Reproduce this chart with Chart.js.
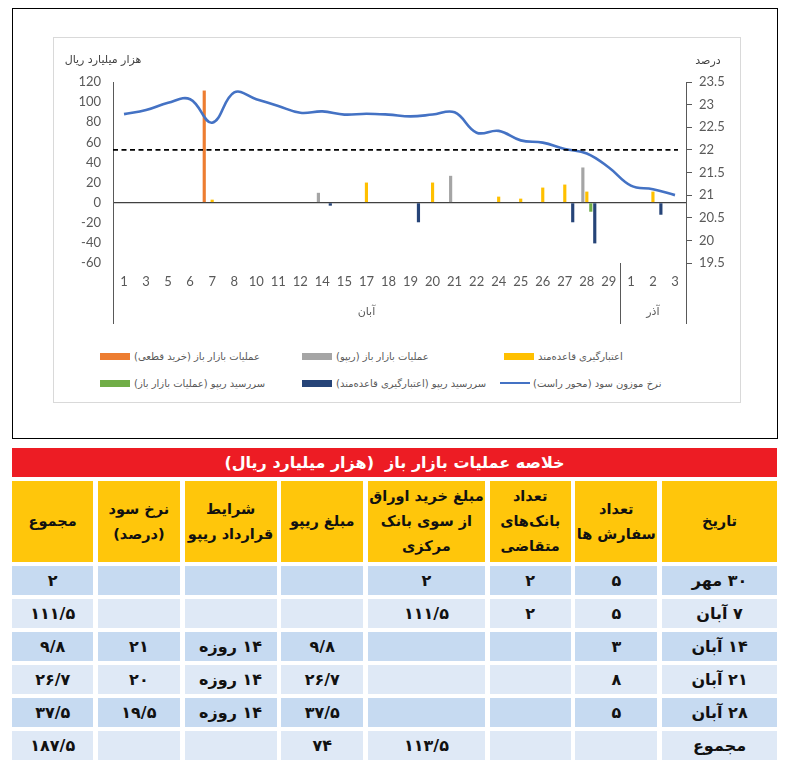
<!DOCTYPE html>
<html>
<head>
<meta charset="utf-8">
<script src="https://cdn.jsdelivr.net/npm/chart.js@4.4.0/dist/chart.umd.min.js"></script>
<style>
html,body{margin:0;padding:0;background:#fff;width:785px;height:765px;overflow:hidden;font-family:"DejaVu Sans",sans-serif;}
#outer{position:absolute;left:12px;top:8px;width:766px;height:431px;border:1px solid #000;box-sizing:border-box;}
#inner{position:absolute;left:53px;top:37px;width:688px;height:366px;border:1px solid #d9d9d9;box-sizing:border-box;}
#chartBox{position:absolute;left:53px;top:37px;width:687px;height:300px;}
.lg{position:absolute;height:14px;display:flex;align-items:center;font-size:10px;color:#595959;white-space:nowrap;}
.lg .sw{width:30px;height:7px;margin-right:4px;}
.lg .ln{width:30px;height:2.5px;margin-right:3px;}
#title{position:absolute;left:12px;top:448px;width:765px;height:29px;background:#ed1c24;color:#fff;font-weight:bold;font-size:16px;display:flex;align-items:center;justify-content:center;direction:rtl;}
#grid{position:absolute;left:12px;top:481px;width:765px;display:grid;direction:rtl;
 grid-template-columns:115px 82px 81px 117px 82px 92px 82px 81px;column-gap:4.7px;
 grid-template-rows:81px repeat(6,29px);row-gap:4px;}
#grid div{display:flex;align-items:center;justify-content:center;text-align:center;font-weight:bold;color:#111;direction:rtl;}
#grid .h{background:#ffc60b;font-size:14.5px;line-height:25px;}
#grid .m{background:#c6daf1;font-size:16px;}
#grid .l{background:#dfe9f6;font-size:16px;}
</style>
</head>
<body>
<div id="outer"></div>
<div id="inner"></div>
<div id="chartBox"><canvas id="c"></canvas></div>
<div id="legend"></div>
<div id="title">خلاصه عملیات بازار باز &nbsp;(هزار میلیارد ریال)</div>
<div id="grid"></div>
<script>
// ---- chart data ----
const categories = ['1','3','5','6','7','8','10','11','12','14','15','17','18','19','20','21','22','24','25','26','27','28','29','1','2','3'];
const groupLabels = ['آبان', 'آذر'];
const groupStart = [0, 23];
const outrightPurchase = [null,null,null,null,111.5,null,null,null,null,null,null,null,null,null,null,null,null,null,null,null,null,null,null,null,null,null];
const omoRepo          = [null,null,null,null,null,null,null,null,null,9.8,null,null,null,null,null,26.7,null,null,null,null,null,35,null,null,null,null];
const standingCredit   = [null,null,null,null,3,null,null,null,null,null,null,20,null,null,20,null,null,6,4,15,18,11,null,null,11,null];
const omoRepoMaturity  = [null,null,null,null,null,null,null,null,null,null,null,null,null,null,null,null,null,null,null,null,null,-9,null,null,null,null];
const sfRepoMaturity   = [null,null,null,null,null,null,null,null,null,-3,null,null,null,-19.5,null,null,null,null,null,null,-19.5,-40.5,null,null,-12,null];
const weightedRate     = [22.79,22.88,23.04,23.12,22.60,23.27,23.12,22.97,22.82,22.85,22.78,22.80,22.78,22.74,22.78,22.83,22.38,22.42,22.21,22.16,22.02,21.92,21.61,21.21,21.13,21.00];
const targetRate = 22;
const leftTicks = {min:-60, max:120, step:20};
const rightTicks = {min:19.5, max:23.5, step:0.5};
const leftTitle = 'هزار میلیارد ریال';
const rightTitle = 'درصد';

// ---- table data ----
const tableHeaders = ['تاریخ','تعداد<br>سفارش ها','تعداد<br>بانک‌های<br>متقاضی','مبلغ خرید اوراق<br>از سوی بانک<br>مرکزی','مبلغ ریپو','شرایط<br>قرارداد ریپو','نرخ سود<br>(درصد)','مجموع'];
const tableDates = ['۳۰ مهر','۷ آبان','۱۴ آبان','۲۱ آبان','۲۸ آبان','مجموع'];
const tableOrders   = [5,5,3,8,5,null];
const tableBanks    = [2,2,null,null,null,null];
const tablePurchase = [2,111.5,null,null,null,113.5];
const tableRepo     = [null,null,9.8,26.7,37.5,74];
const tableTermDays = [null,null,14,14,14,null];
const tableRate     = [null,null,21,20,19.5,null];
const tableTotal    = [2,111.5,9.8,26.7,37.5,187.5];

const font = {family:'Lato', size:13};
const persianFont = '11px "DejaVu Sans"';

const decor = {
  id:'decor',
  afterDatasetsDraw(chart){
    const {ctx, chartArea:a, scales:{x, y1}} = chart;
    const ty = y1.getPixelForValue(targetRate);
    ctx.save();
    ctx.strokeStyle = '#000'; ctx.lineWidth = 1.6; ctx.setLineDash([5,3.5]);
    ctx.beginPath(); ctx.moveTo(a.left, ty); ctx.lineTo(x.getPixelForValue(categories.length-1)+3, ty); ctx.stroke();
    ctx.restore();
  },
  afterDraw(chart){
    const {ctx, chartArea:a, scales:{x}} = chart;
    ctx.save();
    ctx.strokeStyle = '#595959'; ctx.lineWidth = 1;
    const bottom = a.bottom + 61;
    const seps = [a.left, a.right];
    for (let g = 1; g < groupStart.length; g++) {
      seps.push((x.getPixelForValue(groupStart[g]-1) + x.getPixelForValue(groupStart[g]))/2);
    }
    seps.forEach(sx => {
      const px = Math.round(sx) + 0.5;
      ctx.beginPath(); ctx.moveTo(px, a.bottom); ctx.lineTo(px, bottom); ctx.stroke();
    });
    ctx.fillStyle = '#595959'; ctx.font = persianFont; ctx.textAlign = 'center'; ctx.textBaseline = 'middle';
    groupLabels.forEach((lab, g) => {
      const s = g === 0 ? a.left : (x.getPixelForValue(groupStart[g]-1) + x.getPixelForValue(groupStart[g]))/2;
      const e = g === groupLabels.length-1 ? a.right : (x.getPixelForValue(groupStart[g+1]-1) + x.getPixelForValue(groupStart[g+1]))/2;
      ctx.fillText(lab, (s+e)/2, a.bottom + 49);
    });
    ctx.fillStyle = '#404040';
    ctx.fillText(leftTitle, a.left - 10, a.top - 22);
    ctx.fillText(rightTitle, a.right + 22, a.top - 21);
    ctx.restore();
  }
};

const chart = new Chart(document.getElementById('c'), {
  type:'bar',
  data:{
    labels:categories,
    datasets:[
      {label:'عملیات بازار باز (خرید قطعی)', data:outrightPurchase, backgroundColor:'#ed7d31', order:1, yAxisID:'y'},
      {label:'عملیات بازار باز (ریپو)', data:omoRepo, backgroundColor:'#a5a5a5', order:1, yAxisID:'y'},
      {label:'اعتبارگیری قاعده‌مند', data:standingCredit, backgroundColor:'#ffc000', order:1, yAxisID:'y'},
      {label:'سررسید ریپو (عملیات بازار باز)', data:omoRepoMaturity, backgroundColor:'#70ad47', order:1, yAxisID:'y'},
      {label:'سررسید ریپو (اعتبارگیری قاعده‌مند)', data:sfRepoMaturity, backgroundColor:'#264478', order:1, yAxisID:'y'},
      {type:'line', label:'نرخ موزون سود (محور راست)', data:weightedRate, borderColor:'#4472c4', backgroundColor:'#4472c4', borderWidth:2.6, pointRadius:0, tension:0.4, order:0, yAxisID:'y1'}
    ]
  },
  options:{
    responsive:true, maintainAspectRatio:false, animation:false,
    layout:{padding:{top:45, left:0, right:0, bottom:0}},
    categoryPercentage:0.9, barPercentage:0.8,
    plugins:{legend:{display:false}, tooltip:{enabled:false}},
    scales:{
      x:{offset:true, grid:{display:false, drawTicks:false}, border:{display:false},
         ticks:{autoSkip:false, maxRotation:0, minRotation:0, padding:11, color:'#595959', font},
         afterFit(s){ s.height = 74; }},
      y:{position:'left', min:leftTicks.min, max:leftTicks.max,
         ticks:{stepSize:leftTicks.step, padding:12, color:'#595959', font},
         grid:{drawTicks:false, lineWidth:1.2, color:c => (c.tick && c.tick.value === 0) ? '#404040' : 'rgba(0,0,0,0)'},
         border:{display:true, color:'#595959'},
         afterFit(s){ s.width = 60; }},
      y1:{position:'right', min:rightTicks.min, max:rightTicks.max,
         ticks:{stepSize:rightTicks.step, padding:7, color:'#595959', font, callback:v => String(v)},
         grid:{drawOnChartArea:false, drawTicks:true, tickLength:6, color:'#595959'},
         border:{display:true, color:'#595959'},
         afterFit(s){ s.width = 54; }}
    }
  },
  plugins:[decor]
});

// ---- legend (HTML) ----
const legendPos = [[100,356],[302,356],[504,356],[100,383],[302,383],[500,383]];
const legendEl = document.getElementById('legend');
chart.data.datasets.forEach((ds, k) => {
  const item = document.createElement('div');
  item.className = 'lg';
  item.style.left = legendPos[k][0] + 'px';
  item.style.top = (legendPos[k][1] - 7) + 'px';
  const sw = document.createElement('span');
  sw.className = ds.type === 'line' ? 'ln' : 'sw';
  sw.style.background = ds.type === 'line' ? ds.borderColor : ds.backgroundColor;
  const tx = document.createElement('span');
  tx.textContent = ds.label;
  tx.style.direction = 'rtl';
  tx.style.unicodeBidi = 'isolate';
  item.appendChild(sw); item.appendChild(tx);
  legendEl.appendChild(item);
});

// ---- table ----
const faDigits = '۰۱۲۳۴۵۶۷۸۹';
function fa(v){ if (v === null || v === undefined) return ''; return String(v).replace('.', '/').replace(/\d/g, d => faDigits[d]); }
const grid = document.getElementById('grid');
function cell(html, cls){ const d = document.createElement('div'); d.className = cls; d.innerHTML = html; grid.appendChild(d); }
tableHeaders.forEach(h => cell(h, 'h'));
tableDates.forEach((d, r) => {
  const cls = r % 2 === 0 ? 'm' : 'l';
  cell(d, cls);
  cell(fa(tableOrders[r]), cls);
  cell(fa(tableBanks[r]), cls);
  cell(fa(tablePurchase[r]), cls);
  cell(fa(tableRepo[r]), cls);
  cell(tableTermDays[r] ? fa(tableTermDays[r]) + ' روزه' : '', cls);
  cell(fa(tableRate[r]), cls);
  cell(fa(tableTotal[r]), cls);
});
</script>
</body>
</html>
